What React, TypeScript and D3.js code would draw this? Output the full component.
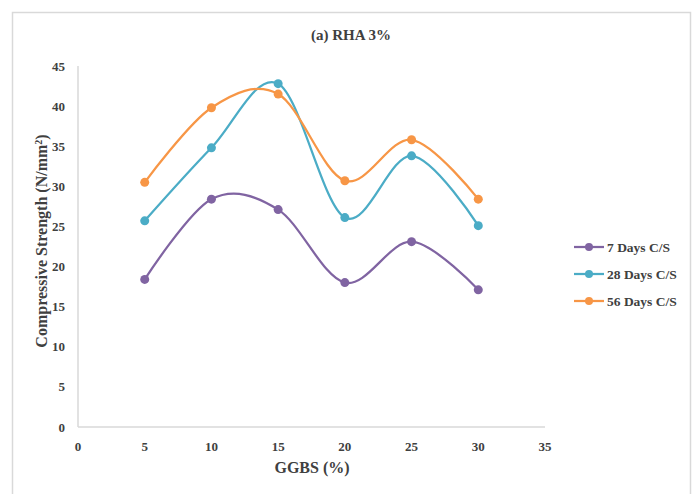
import React from "react";
import * as d3 from "d3";

const xValues = [5, 10, 15, 20, 25, 30];
const seriesNames = ["7 Days C/S", "28 Days C/S", "56 Days C/S"];
const days7 = [18.4, 28.4, 27.1, 18.0, 23.1, 17.1];
const days28 = [25.7, 34.8, 42.8, 26.1, 33.8, 25.1];
const days56 = [30.5, 39.8, 41.5, 30.7, 35.8, 28.4];
const colors = ["#8064A2", "#4BACC6", "#F79646"];
const xTicks = [0, 5, 10, 15, 20, 25, 30, 35];
const yTicks = [0, 5, 10, 15, 20, 25, 30, 35, 40, 45];

const W = 694;
const H = 494;
const left = 78, right = 545, top = 66, bottom = 427;
const font = "'Liberation Serif'";

export default function App() {
  const x = d3.scaleLinear().domain([0, 35]).range([left, right]);
  const y = d3.scaleLinear().domain([0, 45]).range([bottom, top]);
  const data = [days7, days28, days56];
  const line = d3
    .line<[number, number]>()
    .x((d) => x(d[0]))
    .y((d) => y(d[1]))
    .curve(d3.curveCatmullRom.alpha(0));
  const txt = { fontFamily: font };
  return (
    <svg
      width={W}
      height={H}
      style={{ position: "absolute", left: 0, top: 0, display: "block", background: "#fff" }}
    >
      <rect x={12.5} y={12.5} width={678} height={490} fill="#fff" stroke="#d9d9d9" strokeWidth={1.5} />
      <text x={351} y={40} textAnchor="middle" fontSize={15} fontWeight="bold" fill="#404040" style={txt}>
        (a) RHA 3%
      </text>
      <line x1={left} x2={left} y1={top} y2={bottom} stroke="#d9d9d9" strokeWidth={1.5} />
      <line x1={left} x2={right} y1={bottom} y2={bottom} stroke="#d9d9d9" strokeWidth={1.5} />
      {yTicks.map((t) => (
        <text key={"y" + t} x={65} y={y(t) + 4.5} textAnchor="end" fontSize={13} fontWeight="bold" fill="#404040" style={txt}>
          {t}
        </text>
      ))}
      {xTicks.map((t) => (
        <text key={"x" + t} x={x(t)} y={451} textAnchor="middle" fontSize={13} fontWeight="bold" fill="#404040" style={txt}>
          {t}
        </text>
      ))}
      <text x={312} y={473} textAnchor="middle" fontSize={16} fontWeight="bold" fill="#404040" style={txt}>
        GGBS (%)
      </text>
      <text
        transform="translate(47, 241) rotate(-90)"
        textAnchor="middle"
        fontSize={16}
        fontWeight="bold"
        fill="#404040"
        style={txt}
      >
        Compressive Strength (N/mm
        <tspan baselineShift="super" fontSize={10}>2</tspan>)
      </text>
      {data.map((vals, i) => {
        const pts: [number, number][] = xValues.map((xv, j) => [xv, vals[j]]);
        return (
          <g key={seriesNames[i]}>
            <path d={line(pts) || ""} fill="none" stroke={colors[i]} strokeWidth={2.25} />
            {pts.map((p, j) => (
              <circle key={j} cx={x(p[0])} cy={y(p[1])} r={4.5} fill={colors[i]} />
            ))}
          </g>
        );
      })}
      {seriesNames.map((name, i) => {
        const ly = 247 + i * 27;
        return (
          <g key={"lg" + name}>
            <line x1={574} x2={604} y1={ly} y2={ly} stroke={colors[i]} strokeWidth={2.25} />
            <circle cx={589} cy={ly} r={4} fill={colors[i]} />
            <text x={607} y={ly + 4.5} fontSize={13.5} fontWeight="bold" fill="#404040" style={txt}>
              {name}
            </text>
          </g>
        );
      })}
    </svg>
  );
}
